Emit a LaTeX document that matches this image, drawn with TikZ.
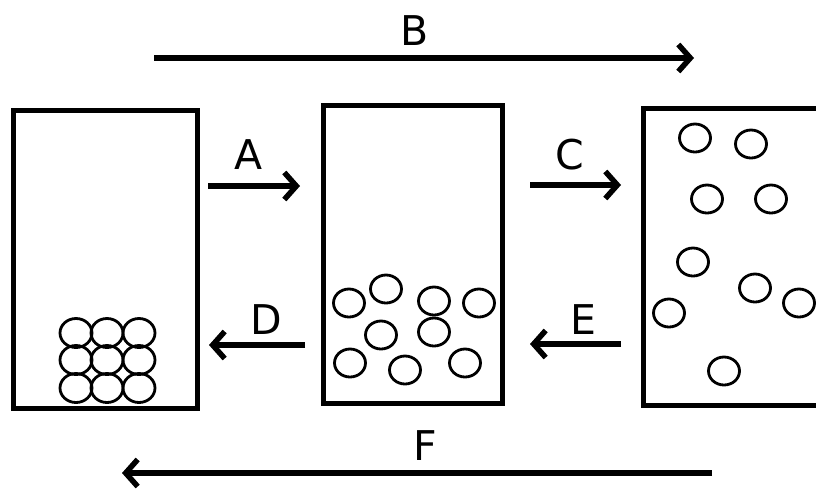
\documentclass[tikz,border=0pt]{standalone}
\usepackage{fontspec}
\setmainfont{DejaVu Sans}
\usetikzlibrary{arrows.meta,shapes.geometric}
\begin{document}
\begin{tikzpicture}[x=1pt,y=-1pt,
  box/.style={draw=black,line width=5pt},
  ball/.style={draw=black,line width=2.8pt,ellipse,minimum width=31pt,minimum height=28pt,inner sep=0pt},
  bigball/.style={draw=black,line width=2.8pt,ellipse,minimum width=32pt,minimum height=29pt,inner sep=0pt},
  flow/.style={line width=5.5pt,-{Straight Barb[length=12pt,width=27pt]}},
  lbl/.style={inner sep=0pt,font=\fontsize{41}{41}\selectfont}]
\useasboundingbox (0,0) rectangle (816,491);
\clip (0,0) rectangle (816,491);
\fill[white] (0,0) rectangle (816,491);
% boxes
\node[box,minimum width=184pt,minimum height=298pt,inner sep=0pt] (L) at (105,259) {};
\node[box,minimum width=179pt,minimum height=298pt,inner sep=0pt] (M) at (412.5,254) {};
\node[box,minimum width=190pt,minimum height=297pt,inner sep=0pt,anchor=north west] (R) at (641,106) {};
% left packed balls
\foreach \i/\x in {1/76,2/107,3/139}{
  \foreach \j/\y in {1/333,2/360,3/388}{
    \node[bigball] (l\i\j) at (\x,\y) {};
  }
}
% middle balls
\node[ball] (m1) at (349,303) {};
\node[ball] (m2) at (386,289) {};
\node[ball] (m3) at (434,301) {};
\node[ball] (m4) at (479,303) {};
\node[ball] (m5) at (381,335) {};
\node[ball] (m6) at (434,332) {};
\node[ball] (m7) at (350,363) {};
\node[ball] (m8) at (405,370) {};
\node[ball] (m9) at (465,363) {};
% right balls
\node[ball] (r1) at (695,138) {};
\node[ball] (r2) at (751,144) {};
\node[ball] (r3) at (707,199) {};
\node[ball] (r4) at (771,199) {};
\node[ball] (r5) at (693,262) {};
\node[ball] (r6) at (755,288) {};
\node[ball] (r7) at (799,303) {};
\node[ball] (r8) at (669,313) {};
\node[ball] (r9) at (724,371) {};
% arrow ends
\coordinate (a1) at (208,186);
\coordinate (a2) at (300,186);
\coordinate (c1) at (530,185);
\coordinate (c2) at (621,185);
\coordinate (d1) at (305,345);
\coordinate (d2) at (209,345);
\coordinate (e1) at (621,344);
\coordinate (e2) at (530,344);
\coordinate (b1) at (154,58);
\coordinate (b2) at (694,58);
\coordinate (f1) at (712,473);
\coordinate (f2) at (122,473);
\draw[flow] (a1) -- (a2);
\draw[flow] (c1) -- (c2);
\draw[flow] (d1) -- (d2);
\draw[flow] (e1) -- (e2);
\draw[flow] (b1) -- (b2);
\draw[flow] (f1) -- (f2);
% labels
\node[lbl] (tA) at (249,155) {A};
\node[lbl] (tC) at (570,155) {C};
\node[lbl] (tD) at (266,320) {D};
\node[lbl] (tE) at (583,320) {E};
\node[lbl] (tB) at (415,31) {B};
\node[lbl] (tF) at (425,446) {F};
\end{tikzpicture}
\end{document}
